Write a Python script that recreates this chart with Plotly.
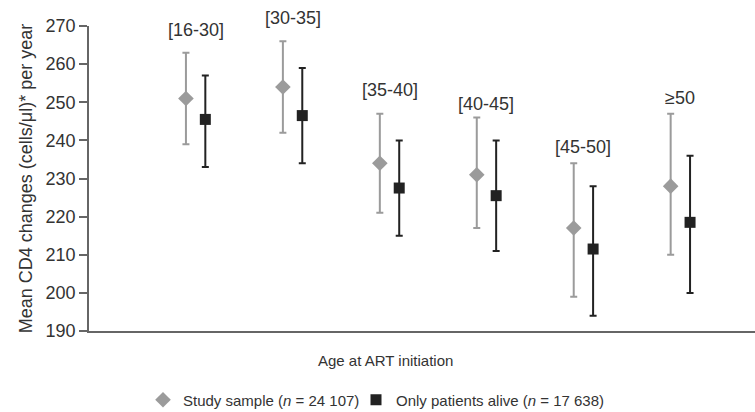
import plotly.graph_objects as go

categories = ["[16-30]", "[30-35]", "[35-40]", "[40-45]", "[45-50]", "≥50"]

study_mean = [251, 254, 234, 231, 217, 228]
study_upper = [263, 266, 247, 246, 234, 247]
study_lower = [239, 242, 221, 217, 199, 210]

alive_mean = [245.5, 246.5, 227.5, 225.5, 211.5, 218.5]
alive_upper = [257, 259, 240, 240, 228, 236]
alive_lower = [233, 234, 215, 211, 194, 200]

label_y = [269, 272, 253.3, 249.5, 238.2, 251.2]

y_min, y_max = 190, 270

n = len(categories)
x_center = list(range(n))
x_study = [i - 0.1 for i in x_center]
x_alive = [i + 0.1 for i in x_center]

font = "Liberation Sans, Arial, Helvetica, sans-serif"
gray = "#9b9b9b"
dark = "#222222"
txt = "#333333"

fig = go.Figure()
fig.add_trace(go.Scatter(
    x=x_study, y=study_mean, mode="markers",
    name="Study sample (<i>n</i> = 24 107)", legend="legend",
    marker=dict(symbol="diamond", size=12, color=gray),
    error_y=dict(type="data", symmetric=False,
                 array=[u - m for u, m in zip(study_upper, study_mean)],
                 arrayminus=[m - l for m, l in zip(study_mean, study_lower)],
                 color=gray, thickness=2, width=3.5),
))
fig.add_trace(go.Scatter(
    x=x_alive, y=alive_mean, mode="markers",
    name="Only patients alive (<i>n</i> = 17 638)", legend="legend2",
    marker=dict(symbol="square", size=11, color=dark),
    error_y=dict(type="data", symmetric=False,
                 array=[u - m for u, m in zip(alive_upper, alive_mean)],
                 arrayminus=[m - l for m, l in zip(alive_mean, alive_lower)],
                 color=dark, thickness=2, width=3.5),
))

for xc, lab, ly in zip(x_center, categories, label_y):
    fig.add_annotation(x=xc, y=(ly - y_min) / (y_max - y_min), text=lab, showarrow=False,
                       xref="x", yref="paper", yanchor="middle",
                       font=dict(size=18, color=txt, family=font))

fig.add_annotation(x=(385 - 89) / 666, y=-(360 - 331) / 305, xref="paper", yref="paper",
                   xanchor="center", yanchor="middle",
                   text="Age at ART initiation", showarrow=False,
                   font=dict(size=15, color=txt, family=font))

legend_common = dict(orientation="h", xanchor="left", yanchor="middle",
                     xref="container", yref="container", y=1 - 400 / 412,
                     font=dict(size=15, color=txt, family=font),
                     itemwidth=30, bgcolor="rgba(0,0,0,0)")

fig.update_layout(
    width=755, height=412,
    margin=dict(l=89, r=0, t=26, b=81),
    paper_bgcolor="white", plot_bgcolor="white",
    font=dict(family=font, size=15, color=txt),
    showlegend=True,
    legend=dict(x=143 / 755, **legend_common),
    legend2=dict(x=356 / 755, **legend_common),
    xaxis=dict(range=[-1.1, 5.77], showticklabels=False, ticks="", showgrid=False,
               zeroline=False, showline=True, linecolor="#666666", linewidth=1.5,
               automargin=False),
    yaxis=dict(range=[y_min, y_max], dtick=10, ticks="outside", ticklen=8, tickcolor="#666666",
               tickwidth=1.5, showgrid=False, zeroline=False, showline=True,
               linecolor="#666666", linewidth=1.5, automargin=False,
               tickfont=dict(size=18, color=txt, family=font),
               title=dict(text="Mean CD4 changes (cells/μl)* per year",
                          font=dict(size=18, color=txt, family=font), standoff=8)),
)

fig.write_html("out.html", config={"displayModeBar": False},
               post_script="document.body.style.margin='0';")
